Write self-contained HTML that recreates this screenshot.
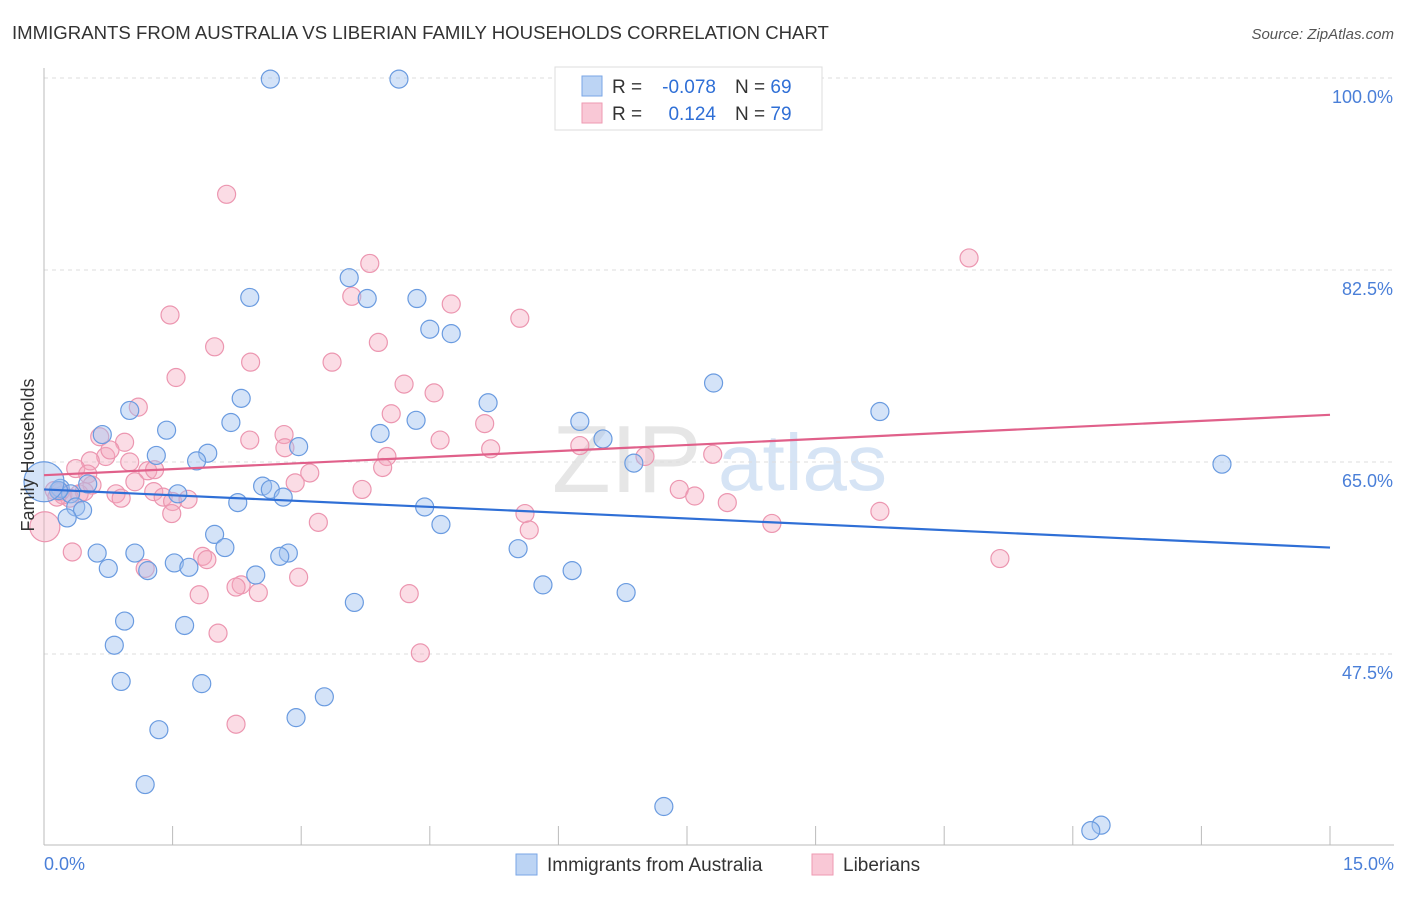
<!DOCTYPE html>
<html><head><meta charset="utf-8"><style>
body{margin:0;background:#fff;font-family:"Liberation Sans",sans-serif;}
svg text{font-family:"Liberation Sans",sans-serif;}
</style></head><body>
<svg id="chart" width="1406" height="892">
<text x="12" y="39" font-size="18.6" fill="#333">IMMIGRANTS FROM AUSTRALIA VS LIBERIAN FAMILY HOUSEHOLDS CORRELATION CHART</text>
<text x="1394" y="39" font-size="15" fill="#555" font-style="italic" text-anchor="end">Source: ZipAtlas.com</text>
<text x="552" y="492" font-size="96" fill="#e6e6e6" font-family="Liberation Serif">ZIP</text>
<text x="718" y="490" font-size="80" fill="#d6e4f5">atlas</text>
<g id="grid"></g><g id="axes"></g><g id="pts"></g><g id="trend"></g>
<text transform="translate(34,455) rotate(-90)" font-size="18" fill="#333" text-anchor="middle">Family Households</text>
<text x="44" y="870" font-size="18" fill="#4a7fd8">0.0%</text>
<text x="1394" y="870" font-size="18" fill="#4a7fd8" text-anchor="end">15.0%</text>
<g>
<rect x="555" y="67" width="267" height="63" fill="#fff" stroke="#ddd"/>
<rect x="582" y="76" width="20" height="20" fill="#bcd4f4" stroke="#7aa6e6"/>
<rect x="582" y="103" width="20" height="20" fill="#f9c8d6" stroke="#ee9ab2"/>
<text x="612" y="93" font-size="19" fill="#333">R =</text>
<text x="716" y="93" font-size="19" fill="#2f6fd6" text-anchor="end">-0.078</text>
<text x="735" y="93" font-size="19" fill="#333">N = <tspan fill="#2f6fd6">69</tspan></text>
<text x="612" y="120" font-size="19" fill="#333">R =</text>
<text x="716" y="120" font-size="19" fill="#2f6fd6" text-anchor="end">0.124</text>
<text x="735" y="120" font-size="19" fill="#333">N = <tspan fill="#2f6fd6">79</tspan></text>
</g>
<g>
<rect x="516" y="854" width="21" height="21" fill="#bcd4f4" stroke="#7aa6e6"/>
<text x="547" y="871" font-size="19" fill="#333">Immigrants from Australia</text>
<rect x="812" y="854" width="21" height="21" fill="#f9c8d6" stroke="#ee9ab2"/>
<text x="843" y="871" font-size="19" fill="#333">Liberians</text>
</g>
</svg>
<script>
const yTicks=[100,82.5,65,47.5];
const yTickLabels=["100.0%","82.5%","65.0%","47.5%"];
const xTicks=[0,1.5,3,4.5,6,7.5,9,10.5,12,13.5,15];
const blueX=[2.64,4.14,3.56,2.40,3.77,4.35,4.50,4.75,7.81,9.75,2.30,1.00,0.68,1.43,2.18,4.34,5.18,6.25,6.52,3.92,2.97,1.31,1.91,1.78,6.88,13.74,0.19,0.51,0.31,1.56,2.55,2.64,2.79,2.26,0.37,0.45,0.27,4.44,4.63,1.99,2.11,0.62,1.06,1.52,1.69,0.75,1.21,2.85,2.75,5.53,6.16,2.47,3.62,5.82,6.79,0.94,1.64,0.82,0.90,1.84,3.27,2.94,1.34,1.18,7.23,12.33,12.21,0.17,0.0];
const blueY=[99.9,99.9,81.8,80.0,79.9,79.9,77.1,76.7,72.2,69.6,70.8,69.7,67.5,67.9,68.6,68.8,70.4,68.7,67.1,67.6,66.4,65.6,65.8,65.1,64.9,64.8,62.6,63.0,62.1,62.1,62.8,62.5,61.8,61.3,60.9,60.6,59.9,60.9,59.3,58.4,57.2,56.7,56.7,55.8,55.4,55.3,55.1,56.7,56.4,57.1,55.1,54.7,52.2,53.8,53.1,50.5,50.1,48.3,45.0,44.8,43.6,41.7,40.6,35.6,33.6,31.9,31.4,62.4,63.2];
const blueR=[9,9,9,9,9,9,9,9,9,9,9,9,9,9,9,9,9,9,9,9,9,9,9,9,9,9,9,9,9,9,9,9,9,9,9,9,9,9,9,9,9,9,9,9,9,9,9,9,9,9,9,9,9,9,9,9,9,9,9,9,9,9,9,9,9,9,9,9,20];
const pinkX=[2.13,10.79,3.80,3.59,4.75,1.47,5.55,3.90,1.99,2.41,3.36,1.54,4.20,4.55,1.10,4.05,5.14,4.62,0.65,0.94,2.80,2.40,2.81,5.21,6.25,7.01,7.80,4.00,0.72,0.54,1.00,0.37,3.95,1.21,3.10,0.51,2.93,1.06,0.56,0.12,0.22,0.41,0.84,0.90,1.28,1.39,1.50,1.68,3.71,7.41,7.59,7.97,1.49,3.20,5.61,5.66,9.75,8.49,0.33,1.85,1.90,1.18,11.15,2.97,2.30,2.24,2.50,1.81,4.26,2.03,4.39,2.24,0.19,0.01,0.47,0.30,0.77,0.15,1.29];
const pinkY=[89.4,83.6,83.1,80.1,79.4,78.4,78.1,75.9,75.5,74.1,74.1,72.7,72.1,71.3,70.0,69.4,68.5,67.0,67.3,66.8,67.5,67.0,66.3,66.2,66.5,65.5,65.7,65.5,65.5,65.1,65.0,64.4,64.5,64.2,64.0,63.9,63.1,63.2,62.9,62.4,62.0,62.1,62.1,61.7,62.3,61.8,61.4,61.6,62.5,62.5,61.9,61.3,60.3,59.5,60.3,58.8,60.5,59.4,56.8,56.4,56.1,55.3,56.2,54.5,53.8,53.6,53.1,52.9,53.0,49.4,47.6,41.1,62.3,59.1,62.3,61.7,66.1,61.8,64.3];
const blueTrend=[62.5,57.2];
const pinkTrend=[63.8,69.3];
const NS="http://www.w3.org/2000/svg";
const X0=44,X1=1330,Y100=78,PX=192/17.5;
function sx(v){return X0+v/15*(X1-X0);}
function sy(v){return Y100+(100-v)*PX;}
function mk(tag,attrs,parent){const e=document.createElementNS(NS,tag);for(const k in attrs)e.setAttribute(k,attrs[k]);parent.appendChild(e);return e;}
const grid=document.getElementById('grid'),axes=document.getElementById('axes'),pts=document.getElementById('pts'),tr=document.getElementById('trend');
yTicks.forEach((t,i)=>{
 const l=mk('line',{x1:X0,x2:1394,y1:sy(t),y2:sy(t),stroke:'#ddd','stroke-dasharray':'4,4'},grid);
 
 
 const tx=mk('text',{x:1393,y:sy(t)+25,'font-size':18,fill:'#4a7fd8','text-anchor':'end'},grid);
 tx.textContent=yTickLabels[i];
 
 
});
const ya=mk('line',{x1:X0,x2:X0,y1:68,y2:845,stroke:'#bbb'},axes);


const xa=mk('line',{x1:X0,x2:1394,y1:845,y2:845,stroke:'#bbb'},axes);


xTicks.forEach(t=>{
 const l=mk('line',{x1:sx(t),x2:sx(t),y1:826,y2:845,stroke:'#bbb'},axes);
 
 
});
pinkX.forEach((v,i)=>{
 const c=mk('circle',{cx:sx(v),cy:sy(pinkY[i]),r:(i==73?15:9),fill:'rgba(244,168,190,0.4)',stroke:'#ec96b0','stroke-width':1.2},pts);
 
 
});
blueX.forEach((v,i)=>{
 const c=mk('circle',{cx:sx(v),cy:sy(blueY[i]),r:blueR[i],fill:'rgba(160,194,240,0.45)',stroke:'#6a9be0','stroke-width':1.2},pts);
 
 
});
const bl=mk('line',{x1:sx(0),x2:sx(15),y1:sy(blueTrend[0]),y2:sy(blueTrend[1]),stroke:'#2f6fd6','stroke-width':2.2},tr);


const pl=mk('line',{x1:sx(0),x2:sx(15),y1:sy(pinkTrend[0]),y2:sy(pinkTrend[1]),stroke:'#e0608a','stroke-width':2.2},tr);


</script>
</body></html>
